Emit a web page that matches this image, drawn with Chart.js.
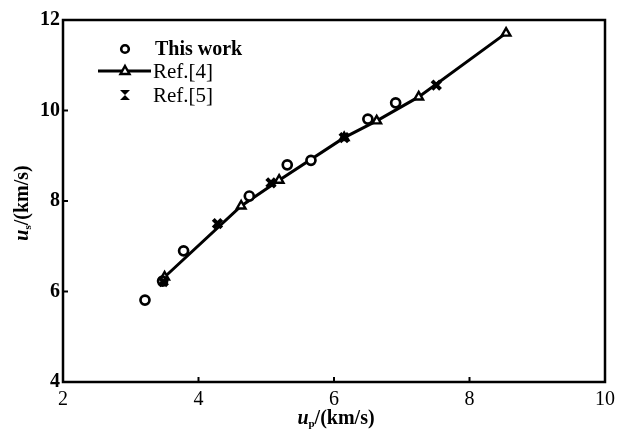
<!DOCTYPE html>
<html>
<head>
<meta charset="utf-8">
<script src="https://cdn.jsdelivr.net/npm/chart.js@4.4.1/dist/chart.umd.min.js"></script>
<style>
  html, body { margin: 0; padding: 0; background: #fff; }
  #wrap { width: 621px; height: 432px; }
</style>
</head>
<body>
<div id="wrap"><canvas id="c"></canvas></div>
<script>
// Данные (u_p, u_s в км/с)
const thisWorkUp = [3.21, 3.47, 3.78, 4.75, 5.31, 5.66, 6.50, 6.91];
const thisWorkUs = [5.81, 6.23, 6.90, 8.11, 8.80, 8.90, 9.81, 10.17];

const ref4Up = [3.50, 4.63, 5.19, 6.15, 6.63, 7.25, 8.54];
const ref4Us = [6.32, 7.89, 8.46, 9.40, 9.77, 10.30, 11.71];

const ref5Up = [3.48, 4.28, 5.07, 6.15, 7.51];
const ref5Us = [6.22, 7.50, 8.40, 9.40, 10.56];

const xTicks = [2, 4, 6, 8, 10];
const yTicks = [4, 6, 8, 10, 12];

const legendLabels = ['This work', 'Ref.[4]', 'Ref.[5]'];

function toPoints(xs, ys) {
    return xs.map((x, i) => ({ x: x, y: ys[i] }));
}

const serif = '"Liberation Serif", "DejaVu Serif", serif';

// Рамка, внутренние засечки, подписи осей и легенда
const framePlugin = {
    id: 'frame',
    afterDraw(chart) {
        const ctx = chart.ctx;
        const a = chart.chartArea;
        const xs = chart.scales.x;
        const ys = chart.scales.y;
        ctx.save();
        ctx.strokeStyle = '#000';
        ctx.lineWidth = 2.5;
        ctx.strokeRect(a.left, a.top, a.right - a.left, a.bottom - a.top);

        ctx.lineWidth = 2;
        xTicks.forEach(v => {
            const px = xs.getPixelForValue(v);
            ctx.beginPath();
            ctx.moveTo(px, a.bottom);
            ctx.lineTo(px, a.bottom - 5);
            ctx.stroke();
        });
        yTicks.forEach(v => {
            const py = ys.getPixelForValue(v);
            ctx.beginPath();
            ctx.moveTo(a.left, py);
            ctx.lineTo(a.left + 5, py);
            ctx.stroke();
        });

        // подпись оси X: u_p/(km/s)
        drawTitle(ctx, 'p', (a.left + a.right) / 2 + 2, 418, 0);
        // подпись оси Y: u_s/(km/s)
        drawTitle(ctx, 's', 22, (a.top + a.bottom) / 2 + 2, -Math.PI / 2);

        // легенда
        const lx = 125, ty = [49, 71, 95];
        const tx = 155;
        ctx.fillStyle = '#000';
        ctx.textBaseline = 'middle';
        ctx.textAlign = 'left';

        ctx.lineWidth = 2.6;
        ctx.beginPath();
        ctx.arc(lx, ty[0], 3.8, 0, Math.PI * 2);
        ctx.stroke();

        ctx.lineWidth = 3;
        ctx.beginPath();
        ctx.moveTo(98, ty[1]);
        ctx.lineTo(151, ty[1]);
        ctx.stroke();
        ctx.lineWidth = 2.4;
        ctx.fillStyle = '#fff';
        ctx.beginPath();
        ctx.moveTo(lx, ty[1] - 5);
        ctx.lineTo(lx + 4.5, ty[1] + 3);
        ctx.lineTo(lx - 4.5, ty[1] + 3);
        ctx.closePath();
        ctx.fill();
        ctx.stroke();

        ctx.fillStyle = '#000';
        ctx.beginPath();
        ctx.moveTo(lx - 5, ty[2] - 5);
        ctx.lineTo(lx + 5, ty[2] - 5);
        ctx.lineTo(lx - 5, ty[2] + 5);
        ctx.lineTo(lx + 5, ty[2] + 5);
        ctx.closePath();
        ctx.fill();

        ctx.font = 'bold 20px ' + serif;
        ctx.fillText(legendLabels[0], tx, ty[0] + 1);
        ctx.font = '21px ' + serif;
        ctx.fillText(legendLabels[1], tx - 2, ty[1] + 1);
        ctx.fillText(legendLabels[2], tx - 2, ty[2] + 1);
        ctx.restore();
    }
};

function drawTitle(ctx, sub, cx, cy, rot) {
    ctx.save();
    ctx.translate(cx, cy);
    ctx.rotate(rot);
    ctx.fillStyle = '#000';
    ctx.textBaseline = 'alphabetic';
    ctx.textAlign = 'left';
    const fMain = 'bold italic 20px ' + serif;
    const fSub = 'bold 11px ' + serif;
    const fRest = 'bold 20px ' + serif;
    const rest = '/(km/s)';
    ctx.font = fMain; const w1 = ctx.measureText('u').width;
    ctx.font = fSub; const w2 = ctx.measureText(sub).width;
    ctx.font = fRest; const w3 = ctx.measureText(rest).width;
    let x = -(w1 + w2 + w3) / 2;
    const base = 6;
    ctx.font = fMain; ctx.fillText('u', x, base); x += w1;
    ctx.font = fSub; ctx.fillText(sub, x, base + 3); x += w2;
    ctx.font = fRest; ctx.fillText(rest, x, base);
    ctx.restore();
}

const ctx = document.getElementById('c').getContext('2d');

new Chart(ctx, {
    type: 'scatter',
    data: {
        datasets: [
            {
                label: legendLabels[1],
                data: toPoints(ref4Up, ref4Us),
                showLine: true,
                borderColor: '#000',
                borderWidth: 3,
                pointStyle: 'triangle',
                pointRadius: 5,
                pointBorderWidth: 2.4,
                pointBackgroundColor: '#fff',
                pointBorderColor: '#000',
                order: 3
            },
            {
                label: legendLabels[2],
                data: toPoints(ref5Up, ref5Us),
                pointStyle: 'crossRot',
                pointRadius: 6,
                pointBorderWidth: 4,
                pointBorderColor: '#000',
                order: 0
            },
            {
                label: legendLabels[0],
                data: toPoints(thisWorkUp, thisWorkUs),
                pointStyle: 'circle',
                pointRadius: 4.5,
                pointBorderWidth: 2.7,
                pointBackgroundColor: '#fff',
                pointBorderColor: '#000',
                order: 1
            }
        ]
    },
    options: {
        responsive: true,
        maintainAspectRatio: false,
        animation: false,
        layout: { padding: { top: 20, right: 14, left: 0, bottom: 0 } },
        plugins: {
            legend: { display: false },
            tooltip: { enabled: false }
        },
        scales: {
            x: {
                type: 'linear',
                min: 2,
                max: 10,
                afterBuildTicks: s => { s.ticks = xTicks.map(v => ({ value: v })); },
                afterFit: s => { s.height = 50; },
                grid: { display: false, drawTicks: false },
                border: { display: false },
                ticks: {
                    color: '#000',
                    padding: 6,
                    font: { family: serif, size: 20 }
                }
            },
            y: {
                type: 'linear',
                min: 4,
                max: 12,
                afterBuildTicks: s => { s.ticks = yTicks.map(v => ({ value: v })); },
                afterFit: s => { s.width = 63; },
                grid: { display: false, drawTicks: false },
                border: { display: false },
                ticks: {
                    color: '#000',
                    padding: 3,
                    font: { family: serif, size: 20, weight: 'bold' }
                }
            }
        }
    },
    plugins: [framePlugin]
});
</script>
</body>
</html>
